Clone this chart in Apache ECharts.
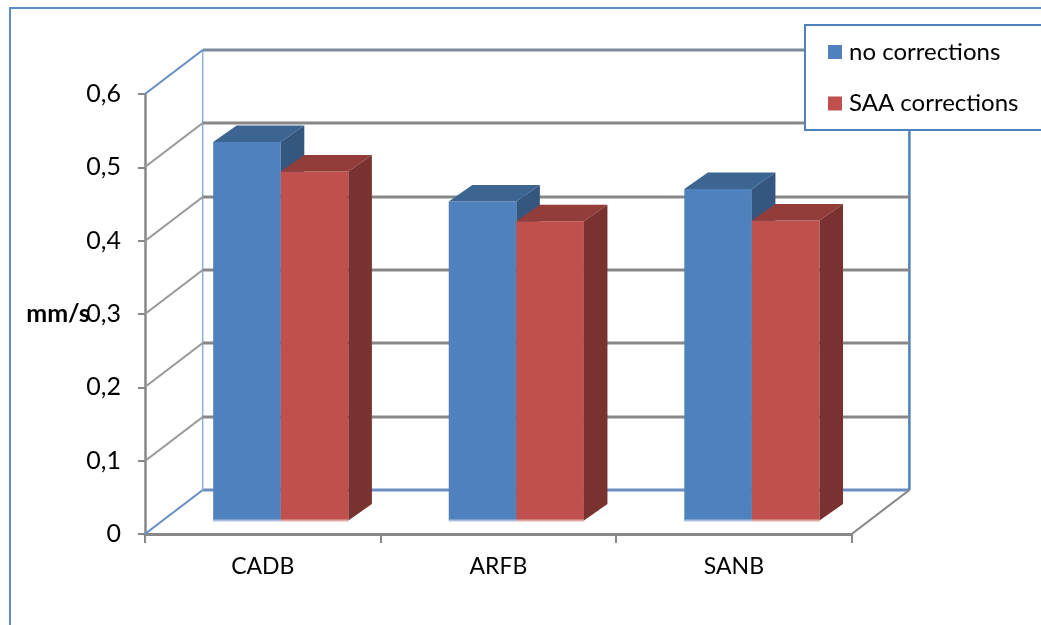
<!DOCTYPE html>
<html>
<head>
<meta charset="utf-8">
<script src="https://cdn.jsdelivr.net/npm/echarts@6/dist/echarts.min.js"></script>
<style>
  html, body { margin: 0; padding: 0; background: #ffffff; }
  #chart { width: 1041px; height: 625px; }
</style>
</head>
<body>
<div id="chart"></div>
<script>
// Mean velocity per station, without and with SAA corrections (mm/s)
const CATEGORIES = ['CADB', 'ARFB', 'SANB'];
const NO_CORRECTIONS = [0.516, 0.435, 0.452];
const SAA_CORRECTIONS = [0.476, 0.408, 0.409];
const SERIES_NAMES = ['no corrections', 'SAA corrections'];
const Y_TICKS = [0, 0.1, 0.2, 0.3, 0.4, 0.5, 0.6];

// Oblique 3D projection: back wall offset, bar plane offset, bar depth
const WALL_DX = 57.7, WALL_DY = -44;
const BAR_DX = 18, BAR_DY = -13.5;
const DEPTH_DX = 23.5, DEPTH_DY = -16.5;
const BAR_FRACTION = 0.287;

const FONT = 'Lato';
const GRID_GRAY = '#878787';
const FRAME_BLUE = '#4F81BD';

const FACE = [
  { front: '#4F81BD', top: '#3D6592', side: '#34567F', base: '#A9C0DF' },
  { front: '#C0504D', top: '#933D3B', side: '#7A3230', base: '#E2A9A8' }
];

function wallItem(params, api) {
  const cs = params.coordSys;
  const v = api.value(0);
  const y = Math.round(api.coord([0, v])[1]);
  const left = cs.x, right = cs.x + cs.width;
  const isEdge = (v === Y_TICKS[0] || v === Y_TICKS[Y_TICKS.length - 1]);
  const children = [];
  // back wall gridline
  children.push({
    type: 'line',
    shape: { x1: left + WALL_DX, y1: y + WALL_DY, x2: right + WALL_DX, y2: y + WALL_DY },
    style: { stroke: v === Y_TICKS[0] ? '#6B8DBF' : (isEdge ? '#7D8A9C' : GRID_GRAY), lineWidth: 3 }
  });
  // side wall diagonal
  children.push({
    type: 'line',
    shape: { x1: left, y1: y, x2: left + WALL_DX, y2: y + WALL_DY },
    style: { stroke: isEdge ? '#6A90C6' : '#9A9A9A', lineWidth: 2.2 }
  });
  if (v === Y_TICKS[0]) {
    const topY = Math.round(api.coord([0, Y_TICKS[Y_TICKS.length - 1]])[1]);
    // back wall vertical edges
    children.push({
      type: 'line',
      shape: { x1: left + WALL_DX, y1: y + WALL_DY, x2: left + WALL_DX, y2: topY + WALL_DY },
      style: { stroke: '#8DB0DC', lineWidth: 1.5 }
    });
    children.push({
      type: 'line',
      shape: { x1: right + WALL_DX, y1: y + WALL_DY, x2: right + WALL_DX, y2: topY + WALL_DY },
      style: { stroke: FRAME_BLUE, lineWidth: 2.5 }
    });
    // floor right edge
    children.push({
      type: 'line',
      shape: { x1: right, y1: y, x2: right + WALL_DX, y2: y + WALL_DY },
      style: { stroke: GRID_GRAY, lineWidth: 2.2 }
    });
  }
  return { type: 'group', children: children };
}

function barRenderer(seriesIdx) {
  return function (params, api) {
    const cs = params.coordSys;
    const band = cs.width / CATEGORIES.length;
    const bw = band * BAR_FRACTION;
    const cat = api.value(0);
    const base = api.coord([cat, 0]);
    const top = api.coord([cat, api.value(1)]);
    const cx = base[0] + BAR_DX;
    const x0 = seriesIdx === 0 ? cx - bw : cx;
    const x1 = x0 + bw;
    const yb = base[1] + BAR_DY;
    const yt = top[1] + BAR_DY;
    const c = FACE[seriesIdx];
    return {
      type: 'group',
      children: [
        { type: 'rect', shape: { x: x0, y: yt, width: bw, height: yb - yt }, style: { fill: c.front } },
        { type: 'polygon', shape: { points: [[x0, yt], [x1, yt], [x1 + DEPTH_DX, yt + DEPTH_DY], [x0 + DEPTH_DX, yt + DEPTH_DY]] }, style: { fill: c.top } },
        { type: 'polygon', shape: { points: [[x1, yt], [x1, yb], [x1 + DEPTH_DX, yb + DEPTH_DY], [x1 + DEPTH_DX, yt + DEPTH_DY]] }, style: { fill: c.side } },
        { type: 'line', shape: { x1: x0, y1: yb, x2: x1, y2: yb }, style: { stroke: c.base, lineWidth: 2 } }
      ]
    };
  };
}

const chart = echarts.init(document.getElementById('chart'));

chart.setOption({
  backgroundColor: '#ffffff',
  animation: false,
  textStyle: { fontFamily: FONT },
  grid: { left: 145, right: 189.3, top: 94, bottom: 91 },
  xAxis: {
    type: 'category',
    data: CATEGORIES,
    boundaryGap: true,
    axisLine: { lineStyle: { color: GRID_GRAY, width: 3 } },
    axisTick: { show: true, length: 9, lineStyle: { color: GRID_GRAY, width: 2 } },
    axisLabel: { color: '#000000', fontSize: 23, fontFamily: FONT, margin: 21 },
    splitLine: { show: false }
  },
  yAxis: {
    type: 'value',
    min: 0, max: 0.6, interval: 0.1,
    name: 'mm/s',
    nameLocation: 'middle',
    nameRotate: 0,
    nameGap: 87,
    nameMoveOverlap: false,
    nameTextStyle: { color: '#000000', fontSize: 25, fontWeight: 'bold', fontFamily: FONT, align: 'center' },
    axisLine: { show: true, lineStyle: { color: GRID_GRAY, width: 2.5 } },
    axisTick: { show: true, length: 7, lineStyle: { color: GRID_GRAY, width: 2 } },
    axisLabel: {
      color: '#000000', fontSize: 25, fontFamily: FONT, margin: 24,
      formatter: function (v) { return v === 0 ? '0' : v.toFixed(1).replace('.', ','); }
    },
    splitLine: { show: false }
  },
  legend: {
    data: SERIES_NAMES,
    orient: 'vertical',
    left: 828, top: 39.5,
    padding: 0,
    itemWidth: 14, itemHeight: 14,
    itemGap: 26.5,
    icon: 'rect',
    z: 20,
    textStyle: { color: '#000000', fontSize: 24, fontFamily: FONT, lineHeight: 25, padding: [0, 0, 0, 2] }
  },
  graphic: [
    {
      type: 'polyline', z: 10, silent: true,
      shape: { points: [[10, 625], [10, 8], [1041, 8]] },
      style: { stroke: '#5B8BC9', lineWidth: 2, fill: null }
    },
    {
      type: 'rect', z: 10, silent: true,
      shape: { x: 805, y: 25, width: 240, height: 105 },
      style: { fill: '#ffffff', stroke: FRAME_BLUE, lineWidth: 2 }
    }
  ],
  series: [
    {
      type: 'custom',
      name: 'walls',
      z: 1,
      silent: true,
      renderItem: wallItem,
      encode: { y: 0 },
      data: Y_TICKS.map(function (v) { return [v]; })
    },
    {
      type: 'custom',
      name: SERIES_NAMES[0],
      z: 3,
      itemStyle: { color: FACE[0].front },
      renderItem: barRenderer(0),
      encode: { x: 0, y: 1 },
      data: NO_CORRECTIONS.map(function (v, i) { return [i, v]; })
    },
    {
      type: 'custom',
      name: SERIES_NAMES[1],
      z: 4,
      itemStyle: { color: FACE[1].front },
      renderItem: barRenderer(1),
      encode: { x: 0, y: 1 },
      data: SAA_CORRECTIONS.map(function (v, i) { return [i, v]; })
    }
  ]
});
</script>
</body>
</html>
